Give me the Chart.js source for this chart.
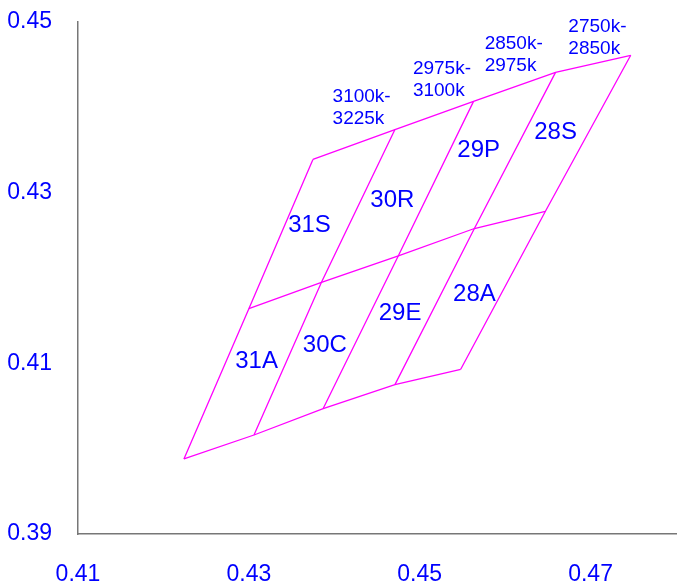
<!DOCTYPE html>
<html>
<head>
<meta charset="utf-8">
<script src="https://cdn.jsdelivr.net/npm/chart.js@4/dist/chart.umd.min.js"></script>
<style>
  body { margin: 0; background: #fff; }
  canvas { display: block; }
</style>
</head>
<body>
<canvas id="binChart" width="677" height="584"></canvas>
<script>
// corner points of the bin grid (chromaticity x, y)
const bottomX = [0.4224, 0.4306, 0.4387, 0.4471, 0.4548];
const bottomY = [0.3988, 0.4016, 0.4047, 0.4075, 0.4093];
const middleX = [0.4300, 0.4385, 0.4475, 0.4564, 0.4647];
const middleY = [0.4164, 0.4195, 0.4226, 0.4258, 0.4278];
const topX = [0.4375, 0.4471, 0.4563, 0.4659, 0.4747];
const topY = [0.4339, 0.4374, 0.4407, 0.4441, 0.4461];

// bin names and where they sit
const binNames = ['31S', '30R', '29P', '28S', '31A', '30C', '29E', '28A'];
const binX = [0.4371, 0.4468, 0.4569, 0.4659, 0.4309, 0.4389, 0.4477, 0.4564];
const binY = [0.4262, 0.4291, 0.4350, 0.4371, 0.4102, 0.4121, 0.4159, 0.4181];

// CCT range captions (two lines each), left edge / first line
const rangeLines = [['3100k-', '3225k'], ['2975k-', '3100k'], ['2850k-', '2975k'], ['2750k-', '2850k']];
const rangeX = [0.4398, 0.4492, 0.4576, 0.4674];
const rangeY = [0.4412, 0.4445, 0.4474, 0.4494];

const xTicks = [0.41, 0.43, 0.45, 0.47];
const yTicks = [0.39, 0.41, 0.43, 0.45];

const magenta = '#ff00ff';
const blue = '#0000ff';
const fontFam = '"Liberation Sans", Arial, sans-serif';

function toPts(xs, ys) {
  return xs.map((x, i) => ({ x: x, y: ys[i] }));
}

var datasets = [];
[[bottomX, bottomY], [middleX, middleY], [topX, topY]].forEach(function (row) {
  datasets.push({ data: toPts(row[0], row[1]) });
});
for (var i = 0; i < bottomX.length; i++) {
  datasets.push({
    data: [
      { x: bottomX[i], y: bottomY[i] },
      { x: middleX[i], y: middleY[i] },
      { x: topX[i], y: topY[i] }
    ]
  });
}
datasets.forEach(function (d) {
  d.showLine = true;
  d.borderColor = magenta;
  d.borderWidth = 1.3;
  d.pointRadius = 0;
  d.fill = false;
});

const textPlugin = {
  id: 'binText',
  afterDatasetsDraw(chart) {
    const ctx = chart.ctx;
    const xs = chart.scales.x, ys = chart.scales.y;
    ctx.save();
    ctx.fillStyle = blue;
    ctx.font = '24px ' + fontFam;
    ctx.textAlign = 'center';
    ctx.textBaseline = 'middle';
    binNames.forEach(function (name, i) {
      ctx.fillText(name, xs.getPixelForValue(binX[i]), ys.getPixelForValue(binY[i]));
    });
    ctx.font = '19px ' + fontFam;
    ctx.textAlign = 'left';
    rangeLines.forEach(function (lines, i) {
      const px = xs.getPixelForValue(rangeX[i]);
      const py = ys.getPixelForValue(rangeY[i]);
      lines.forEach(function (t, j) {
        ctx.fillText(t, px, py + j * 22);
      });
    });
    ctx.restore();
  }
};

new Chart(document.getElementById('binChart').getContext('2d'), {
  type: 'scatter',
  data: { datasets: datasets },
  plugins: [textPlugin],
  options: {
    responsive: false,
    animation: false,
    devicePixelRatio: 1,
    layout: { padding: { left: 8, top: 22, right: 1, bottom: 0 } },
    plugins: { legend: { display: false }, tooltip: { enabled: false } },
    scales: {
      x: {
        type: 'linear',
        min: 0.41,
        max: 0.48,
        afterBuildTicks: function (scale) {
          scale.ticks = xTicks.map(v => ({ value: v }));
        },
        afterFit: function (scale) {
          scale.height = 50;
          scale.paddingLeft = 0;
          scale.paddingRight = 0;
        },
        grid: { drawOnChartArea: false, drawTicks: false },
        border: { color: '#777', width: 1.5 },
        ticks: {
          color: blue,
          padding: 27,
          font: { family: fontFam, size: 23 },
          callback: v => v.toFixed(2)
        }
      },
      y: {
        type: 'linear',
        min: 0.39,
        max: 0.45,
        afterBuildTicks: function (scale) {
          scale.ticks = yTicks.map(v => ({ value: v }));
        },
        afterFit: function (scale) {
          scale.width = 70;
          scale.paddingTop = 0;
          scale.paddingBottom = 0;
        },
        grid: { drawOnChartArea: false, drawTicks: false },
        border: { color: '#777', width: 1.5 },
        ticks: {
          color: blue,
          padding: 26,
          font: { family: fontFam, size: 23 },
          callback: v => v.toFixed(2)
        }
      }
    }
  }
});
</script>
</body>
</html>
